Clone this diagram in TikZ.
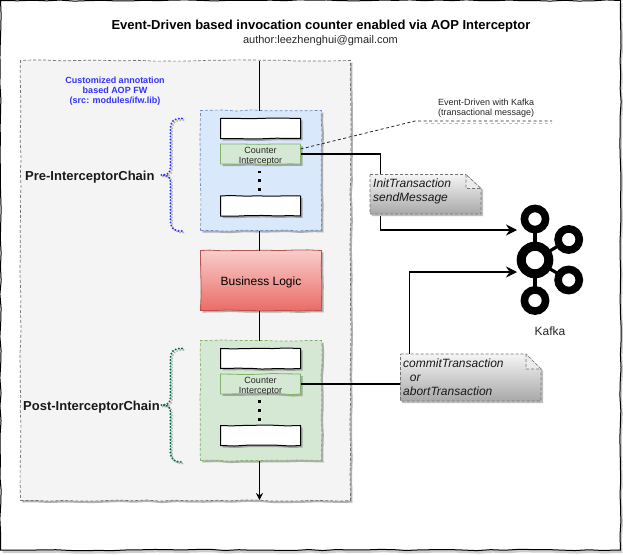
\documentclass[tikz,border=0pt]{standalone}
\usepackage{fontspec}
\setmainfont{Liberation Sans}
\usetikzlibrary{arrows.meta,shadows,decorations.pathmorphing,calc}
\definecolor{bluefill}{HTML}{DAE8FC}
\definecolor{blueline}{HTML}{6C8EBF}
\definecolor{greenfill}{HTML}{D5E8D4}
\definecolor{greenline}{HTML}{82B366}
\definecolor{redtop}{HTML}{F8CECC}
\definecolor{redbot}{HTML}{EA6B66}
\definecolor{redline}{HTML}{B85450}
\definecolor{annot}{HTML}{3333FF}
\definecolor{postgreen}{HTML}{006B45}
\tikzset{
  sketch/.style={decorate,decoration={random steps,segment length=14pt,amplitude=.65pt}},
  softshadow/.style={drop shadow={shadow xshift=2pt,shadow yshift=-2pt,fill=black!55,opacity=.55}},
  boxbase/.style={draw,anchor=north west,inner sep=0pt,outer sep=0pt,sketch,softshadow,align=center},
  chain/.style={boxbase,dashed,line width=.7pt,dash pattern=on 3pt off 2pt,minimum width=121pt,minimum height=120pt},
  slotbox/.style={boxbase,fill=white,line width=1pt,minimum width=80pt,minimum height=20pt},
  counter/.style={boxbase,fill=greenfill,draw=greenline,line width=.8pt,minimum width=80pt,minimum height=20pt},
  counterlabel/.style={font=\fontsize{9}{10}\selectfont,text=black!85,align=center,inner sep=0pt},
  flow/.style={line width=.9pt},
  thickflow/.style={line width=1.6pt,-{Stealth[length=11pt,width=11pt]}},
  notetext/.style={anchor=north west,inner sep=0pt,align=left,font=\fontsize{12}{14}\selectfont\itshape,text=black!90},
  notefill/.style={top color=black!4,bottom color=black!34,draw=black!55,dashed,dash pattern=on 3pt off 2pt,line width=.6pt},
  vdot/.style={rectangle,fill=black,inner sep=0pt,minimum size=2.8pt},
  ring/.style={draw=black,fill=white,line width=7.6pt},
  chainlabel/.style={font=\fontsize{13}{15}\selectfont\bfseries,text=black!90,inner sep=0pt},
  bracedots/.style={line width=2.2pt,line cap=round,dash pattern=on 0pt off 3.2pt},
}
\begin{document}
\begin{tikzpicture}[x=1pt,y=-1pt]
\useasboundingbox (0,0) rectangle (623,554);
% outer frame
\draw[sketch,line width=1pt,fill=white,drop shadow={shadow xshift=2pt,shadow yshift=-3pt,fill=black!40}] (0.5,0.5) rectangle (620.5,550);
% title
\node[font=\fontsize{13}{15}\selectfont\bfseries,inner sep=0pt] (title) at (321,26) {Event-Driven based invocation counter enabled via AOP Interceptor};
\node[font=\fontsize{11}{13}\selectfont,text=black!85,inner sep=0pt] (author) at (320.5,41) {author:leezhenghui@gmail.com};
% gray container
\node[boxbase,fill=black!4.5,draw=black!55,dashed,dash pattern=on 3pt off 2pt,line width=.7pt,minimum width=330pt,minimum height=440pt] (fw) at (20.5,60.5) {};
\node[font=\fontsize{9}{10}\selectfont\bfseries,text=annot,align=center,inner sep=0pt] (fwlabel) at (115,91.5) {Customized annotation\\based AOP FW\\(src: modules/ifw.lib)};
% main boxes
\node[chain,fill=bluefill,draw=blueline] (pre) at (200.5,110.5) {};
\node[boxbase,top color=redtop,bottom color=redbot,draw=redline,line width=.8pt,minimum width=121pt,minimum height=60pt] (biz) at (200.5,250.5) {};
\node[font=\fontsize{12}{14}\selectfont,inner sep=0pt] (bizlabel) at ([yshift=-1.5pt]biz.center) {Business Logic};
\node[chain,fill=greenfill,draw=greenline] (post) at (200.5,340.5) {};
% pre-chain content
\node[slotbox] (pre1) at (220.5,118.5) {};
\node[counter] (prec) at (220.5,144) {};
\node[counterlabel] (preclabel) at ([yshift=-2.5pt]prec.center) {Counter\\Interceptor};
\node[slotbox] (pre2) at (220.5,196) {};
\node[vdot] (pd1) at (259.5,172) {};
\node[vdot] (pd2) at (259.5,180.5) {};
\node[vdot] (pd3) at (259.5,189.5) {};
% post-chain content
\node[slotbox] (post1) at (220.5,348.5) {};
\node[counter] (postc) at (220.5,374) {};
\node[counterlabel] (postclabel) at ([yshift=-2.5pt]postc.center) {Counter\\Interceptor};
\node[slotbox] (post2) at (220.5,425.5) {};
\node[vdot] (qd1) at (259.5,401.5) {};
\node[vdot] (qd2) at (259.5,410.5) {};
\node[vdot] (qd3) at (259.5,419.5) {};
% vertical flow
\coordinate (flowtop) at (259.5,60.5);
\coordinate (flowend) at (259.5,500);
\draw[flow] (flowtop) -- (pre.north -| flowtop);
\draw[flow] (pre.south -| flowtop) -- (biz.north -| flowtop);
\draw[flow] (biz.south -| flowtop) -- (post.north -| flowtop);
\draw[flow,-{Stealth[length=7pt,width=7pt]}] (post.south -| flowtop) -- (flowend);
% Kafka icon
\coordinate (kTop) at (535,219);
\coordinate (kBot) at (535,300.5);
\coordinate (kRT) at (568.7,239.5);
\coordinate (kRB) at (568.7,280);
\coordinate (kHub) at (535,260);
\draw[line width=3.8pt] (kHub) -- (kTop) (kHub) -- (kBot);
\draw[line width=3.2pt] (kHub) -- (kRT) (kHub) -- (kRB);
\draw[ring] (kTop) circle[radius=10.6pt];
\draw[ring] (kBot) circle[radius=10.6pt];
\draw[ring] (kRT) circle[radius=10.6pt];
\draw[ring] (kRB) circle[radius=10.6pt];
\draw[ring,line width=9pt] (kHub) circle[radius=13.8pt];
\node[font=\fontsize{12}{14}\selectfont,text=black!85,inner sep=0pt] (kafka) at (550,331) {Kafka};
% connectors
\coordinate (kIn1) at (517,230);
\coordinate (kIn2) at (517,272);
\draw[thickflow] (prec.east) -- (380.5,154) -- (380.5,230) -- (kIn1);
\draw[thickflow] (postc.east) -- (409.5,384) -- (409.5,272) -- (kIn2);
% dashed callout
\coordinate (cb) at (415,121);
\coordinate (ce) at (552,121);
\draw[dashed,dash pattern=on 3pt off 2.5pt,line width=.8pt,black!85] ([yshift=5pt]prec.east) -- (cb) -- (ce);
\draw[black!25,dashed,line width=.7pt] (425,123.5) -- (552,123.5);
\node[font=\fontsize{9}{10}\selectfont,text=black!85,align=left,anchor=west,inner sep=0pt] (clabel) at (438,108) {Event-Driven with Kafka\\(transactional message)};
% notes
\path[fill=black!25] (372,176) -- (468,176) -- (483,190) -- (483,216) -- (372,216) -- cycle;
\draw[notefill] (370,174.5) -- (466,174.5) -- (481,188.5) -- (481,214) -- (370,214) -- cycle;
\draw[black!55,dashed,dash pattern=on 3pt off 2pt,line width=.6pt,fill=black!8] (466,174.5) -- (466,188.5) -- (481,188.5) -- cycle;
\node[notetext] (note1) at (373,179) {InitTransaction\\sendMessage};
\path[fill=black!25] (402,356) -- (528,356) -- (543,371) -- (543,403) -- (402,403) -- cycle;
\draw[notefill] (400.5,354) -- (526,354) -- (541,369) -- (541,401) -- (400.5,401) -- cycle;
\draw[black!55,dashed,dash pattern=on 3pt off 2pt,line width=.6pt,fill=black!8] (526,354) -- (526,369) -- (541,369) -- cycle;
\node[notetext] (note2) at (403,359) {commitTransaction\\\ \ or\\abortTransaction};
% chain labels
\node[chainlabel,anchor=west] (prelabel) at (25,177) {Pre-InterceptorChain};
\node[chainlabel,anchor=west] (postlabel) at (23,407) {Post-InterceptorChain};
% braces
\foreach \col/\off in {black!30/1.5,annot/0}{
  \draw[\col,bracedots]
    (182+\off,118.5+\off) .. controls (174+\off,118.5+\off) and (170.5+\off,120+\off) .. (170.5+\off,130+\off) -- (170.5+\off,165+\off) .. controls (170.5+\off,172+\off) and (170+\off,175+\off) .. (161+\off,175+\off)
    .. controls (170+\off,175+\off) and (170.5+\off,178+\off) .. (170.5+\off,185+\off) -- (170.5+\off,220+\off) .. controls (170.5+\off,229+\off) and (174+\off,231+\off) .. (182+\off,231+\off);
}
\foreach \col/\off in {black!30/1.5,postgreen/0}{
  \draw[\col,bracedots]
    (182+\off,348.5+\off) .. controls (174+\off,348.5+\off) and (170.5+\off,350+\off) .. (170.5+\off,360+\off) -- (170.5+\off,395+\off) .. controls (170.5+\off,402+\off) and (170+\off,405+\off) .. (161+\off,405+\off)
    .. controls (170+\off,405+\off) and (170.5+\off,408+\off) .. (170.5+\off,415+\off) -- (170.5+\off,451+\off) .. controls (170.5+\off,460+\off) and (174+\off,462+\off) .. (182+\off,462+\off);
}
\end{tikzpicture}
\end{document}
